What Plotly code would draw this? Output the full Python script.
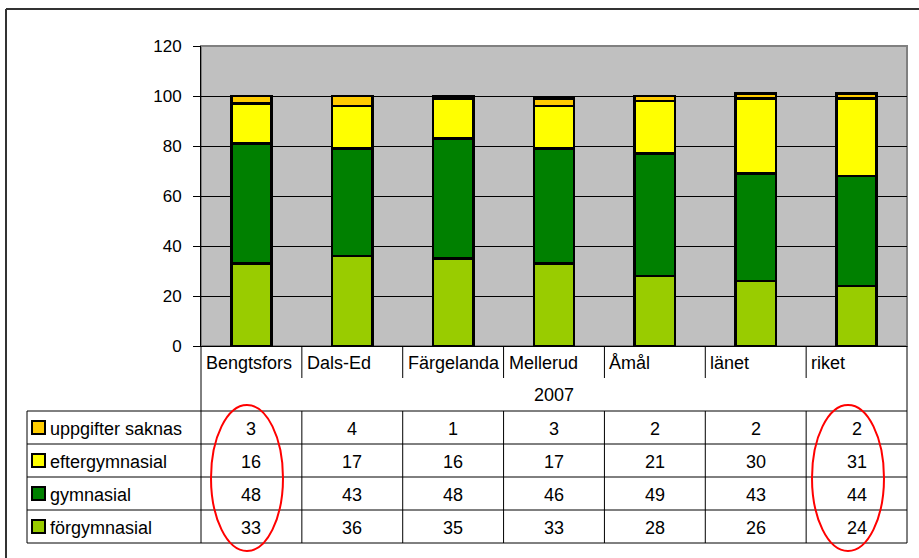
import plotly.graph_objects as go

categories = ["Bengtsfors", "Dals-Ed", "Färgelanda", "Mellerud", "Åmål", "länet", "riket"]
year_label = "2007"
forgymnasial = [33, 36, 35, 33, 28, 26, 24]
gymnasial = [48, 43, 48, 46, 49, 43, 44]
eftergymnasial = [16, 17, 16, 17, 21, 30, 31]
uppgifter_saknas = [3, 4, 1, 3, 2, 2, 2]
y_ticks = [0, 20, 40, 60, 80, 100, 120]

# series, bottom to top
series = [
    ("förgymnasial", forgymnasial, "#99CC00"),
    ("gymnasial", gymnasial, "#008000"),
    ("eftergymnasial", eftergymnasial, "#FFFF00"),
    ("uppgifter saknas", uppgifter_saknas, "#FFCC00"),
]

FIG_W, FIG_H = 919, 558
L, R, T, B = 201, 907, 46, 346
W, H = R - L, B - T
FONT = "Liberation Sans, Arial, sans-serif"


def px_x(x):
    return (x - L) / W


def px_y(y):
    return 1 - (y - T) / H


fig = go.Figure()
for name, vals, col in series:
    fig.add_trace(go.Bar(
        x=categories, y=vals, name=name, width=0.4,
        marker=dict(color=col, line=dict(color="black", width=2.5)),
    ))

n = len(categories)
shapes = []
annotations = []
line_c = "black"

# plot area border (gray top/right)
shapes.append(dict(type="rect", xref="paper", yref="paper", x0=0, x1=1, y0=0, y1=1,
                   line=dict(color="#808080", width=2), layer="below"))

# outer chart border: top and left
shapes.append(dict(type="line", xref="paper", yref="paper", x0=px_x(6), x1=px_x(919),
                   y0=px_y(9), y1=px_y(9), line=dict(color="#333333", width=2)))
shapes.append(dict(type="line", xref="paper", yref="paper", x0=px_x(6), x1=px_x(6),
                   y0=px_y(9), y1=px_y(558), line=dict(color="#333333", width=2)))

LABEL_BOT = 378
YEAR_BOT = 411
ROW_H = 33
TABLE_LEFT = 27
n_rows = len(series)
TABLE_BOT = YEAR_BOT + ROW_H * n_rows

# vertical lines
for i in range(n + 1):
    xp = i / n
    if i == 0 or i == n:
        shapes.append(dict(type="line", xref="paper", yref="paper", x0=xp, x1=xp,
                           y0=px_y(B), y1=px_y(TABLE_BOT), line=dict(color=line_c, width=1)))
    else:
        shapes.append(dict(type="line", xref="paper", yref="paper", x0=xp, x1=xp,
                           y0=px_y(B), y1=px_y(LABEL_BOT), line=dict(color=line_c, width=1)))
        shapes.append(dict(type="line", xref="paper", yref="paper", x0=xp, x1=xp,
                           y0=px_y(YEAR_BOT), y1=px_y(TABLE_BOT), line=dict(color=line_c, width=1)))
# table left border
shapes.append(dict(type="line", xref="paper", yref="paper", x0=px_x(TABLE_LEFT), x1=px_x(TABLE_LEFT),
                   y0=px_y(YEAR_BOT), y1=px_y(TABLE_BOT), line=dict(color=line_c, width=1)))
# horizontal lines
for r in range(n_rows + 1):
    yy = YEAR_BOT + r * ROW_H
    shapes.append(dict(type="line", xref="paper", yref="paper", x0=px_x(TABLE_LEFT), x1=1,
                       y0=px_y(yy), y1=px_y(yy), line=dict(color=line_c, width=1)))

# category labels
colw = W / n
for i, c in enumerate(categories):
    annotations.append(dict(x=px_x(L + i * colw + 3), y=px_y((B + LABEL_BOT) / 2 + 1),
                            xref="paper", yref="paper", text=c, showarrow=False,
                            xanchor="left", yanchor="middle",
                            font=dict(family=FONT, size=18, color="black")))
annotations.append(dict(x=0.5, y=px_y((LABEL_BOT + YEAR_BOT) / 2), xref="paper", yref="paper",
                        text=year_label, showarrow=False, xanchor="center", yanchor="middle",
                        font=dict(family=FONT, size=18, color="black")))

# table rows, top to bottom
for r, (name, vals, col) in enumerate(reversed(series)):
    yc = YEAR_BOT + r * ROW_H + ROW_H / 2
    shapes.append(dict(type="rect", xref="paper", yref="paper",
                       x0=px_x(32), x1=px_x(45), y0=px_y(yc - 6.5), y1=px_y(yc + 6.5),
                       fillcolor=col, line=dict(color="black", width=2)))
    annotations.append(dict(x=px_x(48), y=px_y(yc + 1), xref="paper", yref="paper",
                            text=name, showarrow=False, xanchor="left", yanchor="middle",
                            font=dict(family=FONT, size=18, color="black")))
    for i, v in enumerate(vals):
        annotations.append(dict(x=(i + 0.5) / n, y=px_y(yc + 1), xref="paper", yref="paper",
                                text=str(v), showarrow=False, xanchor="center", yanchor="middle",
                                font=dict(family=FONT, size=18, color="black")))

# red ellipses
for (x0, x1) in [(211, 283), (812, 884)]:
    shapes.append(dict(type="circle", xref="paper", yref="paper",
                       x0=px_x(x0), x1=px_x(x1), y0=px_y(551), y1=px_y(405),
                       line=dict(color="#FF0000", width=2)))

fig.update_layout(
    width=FIG_W, height=FIG_H,
    margin=dict(l=L, r=FIG_W - R, t=T, b=FIG_H - B, pad=0),
    barmode="stack", showlegend=False,
    plot_bgcolor="#C0C0C0", paper_bgcolor="white",
    font=dict(family=FONT, size=16, color="black"),
    shapes=shapes, annotations=annotations,
    xaxis=dict(type="category", range=[-0.5, n - 0.5], showticklabels=False, ticks="",
               showgrid=False, showline=True, linecolor="black", linewidth=1, zeroline=False,
               fixedrange=True),
    yaxis=dict(range=[0, 120], tickvals=y_ticks, ticks="outside", ticklen=7, tickcolor="black",
               tickwidth=1, showline=True, linecolor="black", linewidth=1, showgrid=True,
               gridcolor="black", gridwidth=1, zeroline=False,
               tickfont=dict(family=FONT, size=17, color="black"), ticklabelstandoff=8,
               fixedrange=True),
)

fig.write_html("out.html", config={"displayModeBar": False},
               post_script="document.body.style.margin='0';")
